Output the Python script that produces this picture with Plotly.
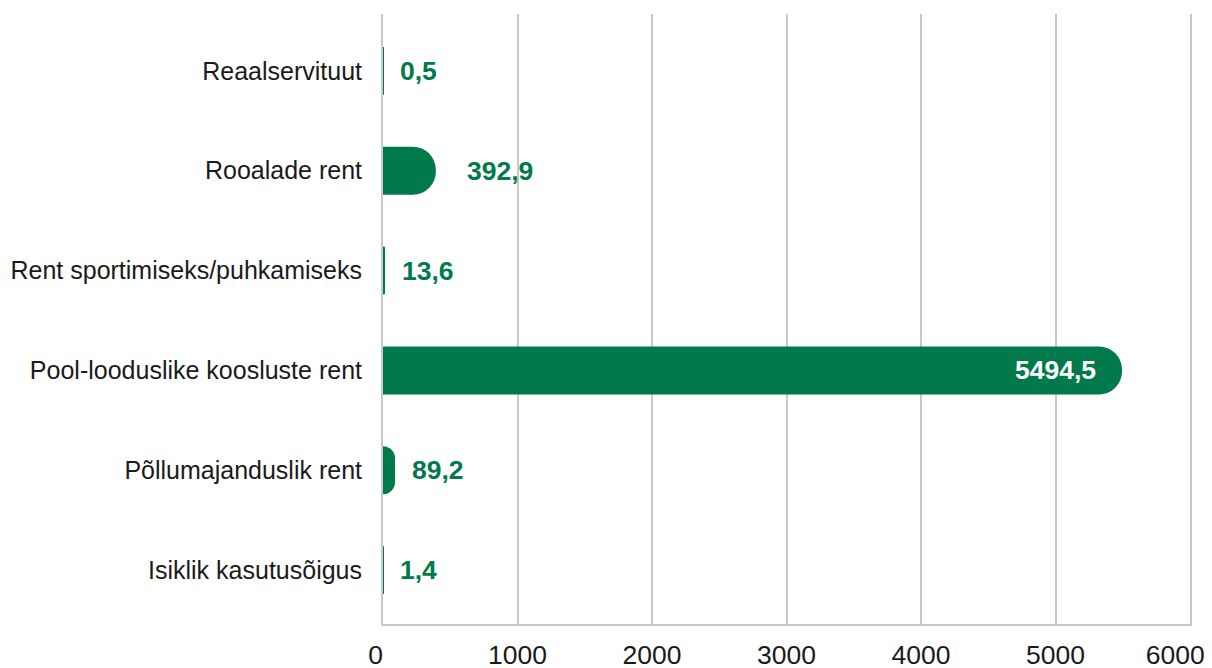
import plotly.graph_objects as go

categories = ["Isiklik kasutusõigus", "Põllumajanduslik rent", "Pool-looduslike koosluste rent",
              "Rent sportimiseks/puhkamiseks", "Rooalade rent", "Reaalservituut"]
values = [1.4, 89.2, 5494.5, 13.6, 392.9, 0.5]
value_labels = ["1,4", "89,2", "5494,5", "13,6", "392,9", "0,5"]
x_ticks = [0, 1000, 2000, 3000, 4000, 5000, 6000]

GREEN = "#007A4B"
GRID = "#C9C9C9"

fig = go.Figure(go.Bar(
    x=values, y=categories, orientation="h",
    marker=dict(color=GREEN, line=dict(width=0)),
    hoverinfo="skip",
))

vmax = max(values)
for cat, v, lab in zip(categories, values, value_labels):
    if v == vmax:
        fig.add_annotation(x=v, y=cat, text="<b>" + lab + "</b>", showarrow=False, xanchor="right",
                           xshift=-24, font=dict(family="Liberation Sans", size=26.5, color="white"))
    else:
        shift = 29 if v > 300 else 15
        fig.add_annotation(x=v, y=cat, text="<b>" + lab + "</b>", showarrow=False, xanchor="left",
                           xshift=shift, font=dict(family="Liberation Sans", size=26.5, color=GREEN))

# edge tick labels are nudged inward (as in the reference) with trailing non-breaking spaces
tick_text = [str(t) for t in x_ticks]
tick_text[0] = tick_text[0] + "&nbsp;&nbsp;"
tick_text[-1] = tick_text[-1] + "&nbsp;&nbsp;&nbsp;&nbsp;"

# page body has an 8px default margin, so the figure is 8px smaller and margins are offset
fig.update_layout(
    width=1204, height=660,
    margin=dict(l=375, r=22, t=6, b=44),
    paper_bgcolor="white", plot_bgcolor="white",
    bargap=0.52, barcornerradius="50%",
    showlegend=False,
    font=dict(family="Liberation Sans", color="#1a1a1a"),
    xaxis=dict(range=[0, 6000], tickvals=x_ticks, ticktext=tick_text,
               showgrid=True, gridcolor=GRID, gridwidth=2,
               showline=True, linecolor=GRID, linewidth=2,
               zeroline=False, ticks="", ticklabelstandoff=6,
               ticklabeloverflow="allow", automargin=False,
               tickfont=dict(size=26.5, color="#1a1a1a")),
    yaxis=dict(type="category", categoryorder="array", categoryarray=categories,
               range=[-0.54, 5.57], showgrid=False, zeroline=False,
               showline=True, linecolor=GRID, linewidth=2, mirror=True,
               ticks="", ticklabelstandoff=14, automargin=False,
               tickfont=dict(size=25, color="#1a1a1a")),
)

fig.write_html("out.html")
